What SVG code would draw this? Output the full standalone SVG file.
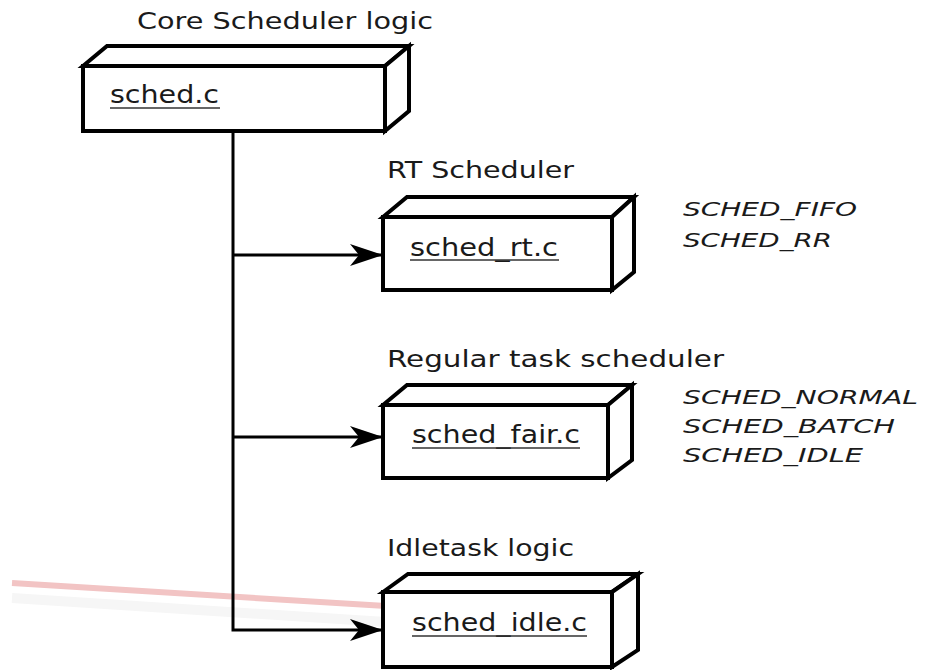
<svg xmlns="http://www.w3.org/2000/svg" width="926" height="670" viewBox="0 0 926 670">
  <style>
    .box { fill: #fff; stroke: #000; stroke-width: 4; stroke-linejoin: miter; }
    .title { font-family: "DejaVu Sans", "Liberation Sans", sans-serif; font-size: 23px; fill: #1a1a1a; }
    .file { font-family: "DejaVu Sans", "Liberation Sans", sans-serif; font-size: 24px; fill: #1a1a1a; }
    .uline { stroke: #333; stroke-width: 1.6; }
    .policy { font-family: "DejaVu Sans", "Liberation Sans", sans-serif; font-style: italic; font-size: 20px; fill: #1a1a1a; }
    .conn { fill: none; stroke: #000; stroke-width: 3; }
  </style>
  <defs>
    <marker id="arrow" markerUnits="userSpaceOnUse" markerWidth="34" markerHeight="24" viewBox="0 0 34 24" refX="33" refY="12" orient="auto">
      <path d="M0,1 L33,12 L0,23 L9,12 Z" fill="#000"/>
    </marker>
  </defs>
  <rect width="926" height="670" fill="#fff"/>

  <!-- faint stray marks across the lower part -->
  <g id="stray">
    <path d="M12,583 L386,606" stroke="#f2c4c4" stroke-width="6" fill="none"/>
    <path d="M12,598 L386,622" stroke="#f6f6f6" stroke-width="10" fill="none"/>
  </g>

  <!-- connectors -->
  <g id="connectors">
    <path class="conn" d="M233,131 L233,630 L383,630" marker-end="url(#arrow)"/>
    <path class="conn" d="M233,255 L383,255" marker-end="url(#arrow)"/>
    <path class="conn" d="M233,437 L383,437" marker-end="url(#arrow)"/>
  </g>

  <!-- sched.c -->
  <g id="core">
    <text class="title" x="137" y="29" textLength="296" lengthAdjust="spacingAndGlyphs">Core Scheduler logic</text>
    <path class="box" d="M83,66 L107,46 L409,46 L385,66 Z"/>
    <path class="box" d="M385,66 L409,46 L409,111 L385,131 Z"/>
    <rect class="box" x="83" y="66" width="302" height="65"/>
    <text class="file" x="110" y="103" textLength="109" lengthAdjust="spacingAndGlyphs">sched.c</text>
    <line class="uline" x1="110" y1="108" x2="220" y2="108"/>
  </g>

  <!-- sched_rt.c -->
  <g id="rt">
    <text class="title" x="387" y="178" textLength="187" lengthAdjust="spacingAndGlyphs">RT Scheduler</text>
    <path class="box" d="M383,217 L407,197 L634,197 L612,217 Z"/>
    <path class="box" d="M612,217 L634,197 L634,272 L612,290 Z"/>
    <rect class="box" x="383" y="217" width="229" height="73"/>
    <text class="file" x="410" y="256" textLength="148" lengthAdjust="spacingAndGlyphs">sched_rt.c</text>
    <line class="uline" x1="410" y1="260" x2="559" y2="260"/>
    <text class="policy" x="683" y="216" textLength="174" lengthAdjust="spacingAndGlyphs">SCHED_FIFO</text>
    <text class="policy" x="683" y="247" textLength="149" lengthAdjust="spacingAndGlyphs">SCHED_RR</text>
  </g>

  <!-- sched_fair.c -->
  <g id="fair">
    <text class="title" x="387" y="367" textLength="337" lengthAdjust="spacingAndGlyphs">Regular task scheduler</text>
    <path class="box" d="M383,405 L407,385 L632,385 L608,405 Z"/>
    <path class="box" d="M608,405 L632,385 L632,460 L608,478 Z"/>
    <rect class="box" x="383" y="405" width="225" height="73"/>
    <text class="file" x="412" y="443" textLength="168" lengthAdjust="spacingAndGlyphs">sched_fair.c</text>
    <line class="uline" x1="412" y1="448" x2="580" y2="448"/>
    <text class="policy" x="683" y="404" textLength="235" lengthAdjust="spacingAndGlyphs">SCHED_NORMAL</text>
    <text class="policy" x="683" y="433" textLength="212" lengthAdjust="spacingAndGlyphs">SCHED_BATCH</text>
    <text class="policy" x="683" y="462" textLength="180" lengthAdjust="spacingAndGlyphs">SCHED_IDLE</text>
  </g>

  <!-- sched_idle.c -->
  <g id="idle">
    <text class="title" x="387" y="556" textLength="187" lengthAdjust="spacingAndGlyphs">Idletask logic</text>
    <path class="box" d="M383,592 L408,574 L638,574 L612,592 Z"/>
    <path class="box" d="M612,592 L638,574 L638,650 L612,667 Z"/>
    <rect class="box" x="383" y="592" width="229" height="75"/>
    <text class="file" x="412" y="631" textLength="175" lengthAdjust="spacingAndGlyphs">sched_idle.c</text>
    <line class="uline" x1="412" y1="636" x2="587" y2="636"/>
  </g>
</svg>
